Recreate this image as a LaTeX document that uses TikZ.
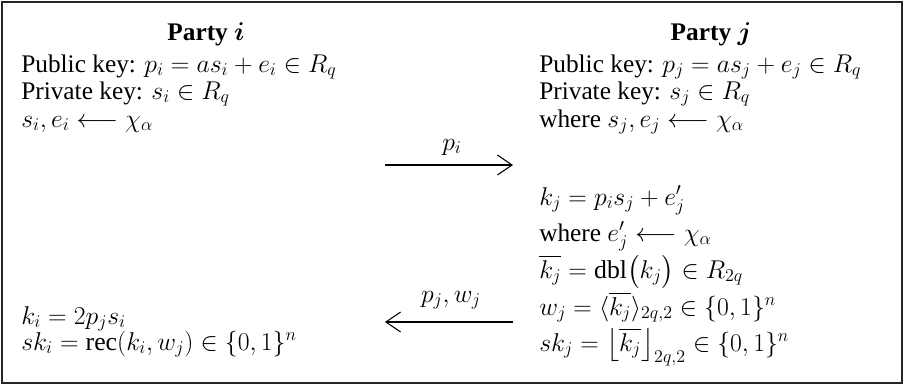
\RequirePackage{fix-cm}
\documentclass[tikz,border=0pt]{standalone}
\usepackage{amsmath}
\usepackage{fontspec}
\setmainfont{Liberation Serif}
\DeclareMathSizes{19}{19.3}{13.5}{10.5}
\usetikzlibrary{arrows.meta}
\tikzset{
  txt/.style={anchor=base west, inner sep=0pt, font=\fontsize{19}{21}\selectfont},
  ttl/.style={anchor=base, inner sep=0pt, font=\fontsize{19}{21}\selectfont\bfseries},
  lbl/.style={anchor=base, inner sep=0pt, font=\fontsize{19}{21}\selectfont},
  msg/.style={line width=0.8pt, -{Straight Barb[length=11pt, width=15pt, line width=0.8pt]}},
  frame/.style={line width=1.1pt, draw=black!85}
}
\begin{document}
\begin{tikzpicture}[x=0.75pt,y=-0.75pt]
\useasboundingbox (0,0) rectangle (904,386);
\draw[frame] (2,2) rectangle (902,383);
% Party i
\node[ttl] (pi) at (206,40) {Party $\boldsymbol{i}$};
\node[txt] (pubi) at (21,72) {Public key: $p_i = as_i + e_i \in R_q$};
\node[txt] (privi) at (21,99) {Private key: $s_i \in R_q$};
\node[txt] (samp) at (21,127) {$s_i, e_i \longleftarrow \chi_\alpha$};
\node[txt] (ki) at (21,324) {$k_i = 2p_js_i$};
\node[txt] (ski) at (21,350) {$sk_i = \mathrm{rec}(k_i, w_j) \in \{0,1\}^n$};
% Party j
\node[ttl] (pj) at (711,40) {Party $\boldsymbol{j}$};
\node[txt] (pubj) at (539,72) {Public key: $p_j = as_j + e_j \in R_q$};
\node[txt] (privj) at (539,99) {Private key: $s_j \in R_q$};
\node[txt] (sampj) at (539,127) {where $s_j, e_j \longleftarrow \chi_\alpha$};
\node[txt] (kj) at (539,205) {$k_j = p_is_j + e_j'$};
\node[txt] (ej) at (539,241) {where $e_j' \longleftarrow \chi_\alpha$};
\node[txt] (kbar) at (539,278) {$\overline{k_j} = \mathrm{dbl}\bigl(k_j\bigr) \in R_{2q}$};
\node[txt] (wj) at (539,315) {$w_j = \langle \overline{k_j} \rangle_{2q,2} \in \{0,1\}^n$};
\node[txt] (skj) at (539,351) {$sk_j = \bigl\lfloor \overline{k_j} \bigr\rfloor_{2q,2} \in \{0,1\}^n$};
% messages
\coordinate (a1s) at (385,165);
\coordinate (a1e) at (513,165);
\coordinate (a2s) at (513,322);
\coordinate (a2e) at (385,322);
\draw[msg] (a1s) -- (a1e);
\draw[msg] (a2s) -- (a2e);
\node[lbl] (l1) at (452,150) {$p_i$};
\node[lbl] (l2) at (451,302) {$p_j, w_j$};
\end{tikzpicture}
\end{document}
